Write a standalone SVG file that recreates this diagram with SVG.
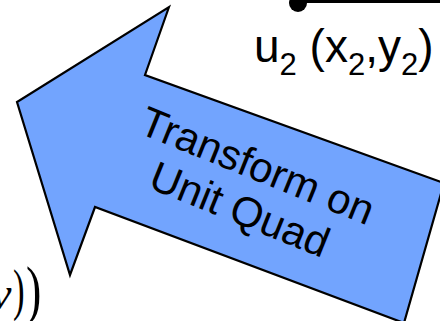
<svg xmlns="http://www.w3.org/2000/svg" width="440" height="321" viewBox="0 0 440 321">
<style>
.sans{font-family:"Liberation Sans",Arial,sans-serif;fill:#000}
.serif{font-family:"Liberation Serif","Times New Roman",serif;fill:#000}
.arrow{fill:#72a4fe;stroke:#000;stroke-width:2.2;stroke-linejoin:miter}
</style>
<rect width="440" height="321" fill="#fff"/>
<g id="connectors">
<line x1="298" y1="1.5" x2="440" y2="1.5" stroke="#000" stroke-width="3"/>
<ellipse cx="298" cy="3" rx="9" ry="9" fill="#000"/>
</g>
<g id="label-u2">
<text class="sans" x="254" y="62" font-size="46">u<tspan font-size="31" dy="13">2</tspan><tspan dy="-13"> (x</tspan><tspan font-size="31" dy="13">2</tspan><tspan dy="-13">,y</tspan><tspan font-size="31" dy="13">2</tspan><tspan dy="-13">)</tspan></text>
</g>
<g id="transform-arrow">
<polygon class="arrow" points="169,7 145,75 444,183 404,323 95,207 70,275 17,102"/>
<g transform="translate(252,179) rotate(22)">
<text class="sans" x="0" y="0" font-size="42" text-anchor="middle">Transform on</text>
<text class="sans" x="0" y="47" font-size="42" text-anchor="middle">Unit Quad</text>
</g>
</g>
<g id="label-formula">
<text class="serif" x="-9" y="309" font-size="46" font-style="italic">v</text>
<text class="serif" transform="translate(13,309) scale(0.6,1)" font-size="58">)</text>
<text class="serif" transform="translate(26,312) scale(0.7,1)" font-size="66">)</text>
</g>
</svg>
